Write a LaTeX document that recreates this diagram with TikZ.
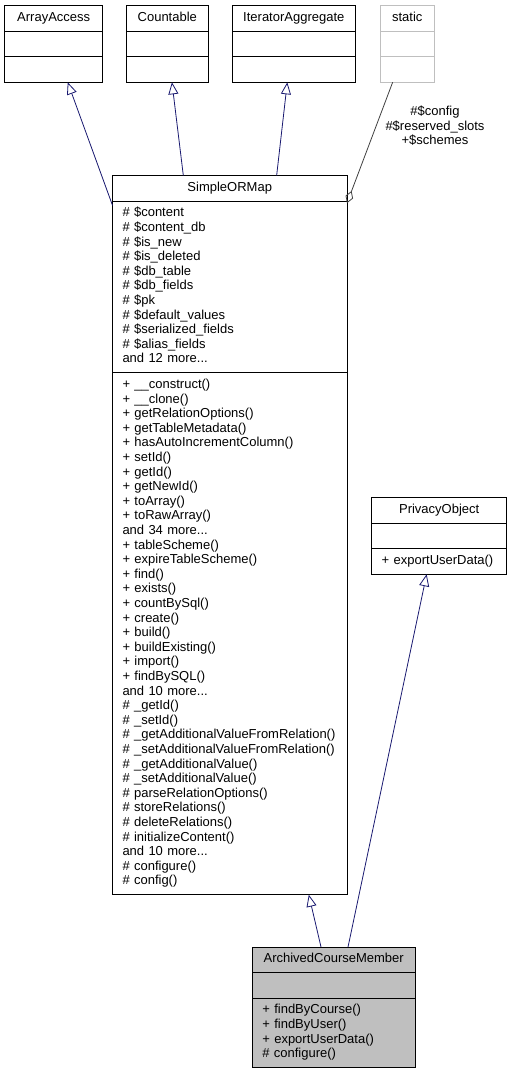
\documentclass[tikz,border=0pt]{standalone}
\usepackage{fontspec}
\setmainfont{Liberation Sans}
\usepackage{xcolor}
\usepackage{tikz}
\usetikzlibrary{positioning,arrows.meta,calc}
\definecolor{inhBlue}{HTML}{191970}
\definecolor{useGray}{HTML}{404040}
\definecolor{extGray}{HTML}{BFBFBF}
\definecolor{focusGray}{HTML}{BFBFBF}

\begin{document}
\begin{tikzpicture}[
    x=1pt, y=-1pt,
    cls/.style={draw, line width=0.9pt, outer sep=0pt, inner xsep=10pt, inner ysep=5.5pt, minimum height=25.6pt,
      font=\fontsize{13}{14.6}\selectfont,
      execute at begin node={\setlength{\parindent}{0pt}\strut}, execute at end node=\strut},
    head/.style={cls, align=center},
    part/.style={cls, align=left},
    lbl/.style={inner sep=0pt, align=center, font=\fontsize{13}{14.6}\selectfont,
      execute at begin node=\strut, execute at end node=\strut},
    inherit/.style={-{Triangle[open, length=12pt, width=10pt]}, draw=inhBlue, line width=0.8pt},
    usage/.style={-{Diamond[open, length=13pt, width=8pt]}, draw=useGray, line width=0.8pt}
  ]
  \useasboundingbox (0,0) rectangle (512,1073);

  % Interfaces
  \node[head, minimum width=98pt] (aa-h) at (53.7,18.3) {ArrayAccess};
  \node[part, minimum width=98pt, below=0pt of aa-h] (aa-a) {};
  \node[part, minimum width=98pt, below=0pt of aa-a] (aa-m) {};

  \node[head, minimum width=81.3pt] (ct-h) at (167.3,18.3) {Countable};
  \node[part, minimum width=81.3pt, below=0pt of ct-h] (ct-a) {};
  \node[part, minimum width=81.3pt, below=0pt of ct-a] (ct-m) {};

  \node[head, minimum width=123pt] (ia-h) at (293.8,18.3) {IteratorAggregate};
  \node[part, minimum width=123pt, below=0pt of ia-h] (ia-a) {};
  \node[part, minimum width=123pt, below=0pt of ia-a] (ia-m) {};

  % External class
  \node[head, draw=extGray, minimum width=54.7pt] (st-h) at (407.3,18.3) {static};
  \node[part, draw=extGray, minimum width=54.7pt, below=0pt of st-h] (st-a) {};
  \node[part, draw=extGray, minimum width=54.7pt, below=0pt of st-a] (st-m) {};

  % Base class
  \node[head, minimum width=234.5pt] (smap-h) at (229.75,188.3) {SimpleORMap};
  \node[part, text width=214.5pt, below=0pt of smap-h] (smap-a)
    {\# \$content\\
     \# \$content\_db\\
     \# \$is\_new\\
     \# \$is\_deleted\\
     \# \$db\_table\\
     \# \$db\_fields\\
     \# \$pk\\
     \# \$default\_values\\
     \# \$serialized\_fields\\
     \# \$alias\_fields\\
     and 12 more...};
  \node[part, text width=214.5pt, below=0pt of smap-a] (smap-m)
    {+ \_\_construct()\\
     + \_\_clone()\\
     + getRelationOptions()\\
     + getTableMetadata()\\
     + hasAutoIncrementColumn()\\
     + setId()\\
     + getId()\\
     + getNewId()\\
     + toArray()\\
     + toRawArray()\\
     and 34 more...\\
     + tableScheme()\\
     + expireTableScheme()\\
     + find()\\
     + exists()\\
     + countBySql()\\
     + create()\\
     + build()\\
     + buildExisting()\\
     + import()\\
     + findBySQL()\\
     and 10 more...\\
     \# \_getId()\\
     \# \_setId()\\
     \# \_getAdditionalValueFromRelation()\\
     \# \_setAdditionalValueFromRelation()\\
     \# \_getAdditionalValue()\\
     \# \_setAdditionalValue()\\
     \# parseRelationOptions()\\
     \# storeRelations()\\
     \# deleteRelations()\\
     \# initializeContent()\\
     and 10 more...\\
     \# configure()\\
     \# config()};

  % Privacy interface
  \node[head, minimum width=135pt] (po-h) at (439.2,510.3) {PrivacyObject};
  \node[part, minimum width=135pt, below=0pt of po-h] (po-a) {};
  \node[part, text width=115pt, below=0pt of po-a] (po-m) {+ exportUserData()};

  % Documented class
  \node[head, fill=focusGray, minimum width=162.7pt] (acm-h) at (333.7,959.8) {ArchivedCourseMember};
  \node[part, fill=focusGray, minimum width=162.7pt, below=0pt of acm-h] (acm-a) {};
  \node[part, fill=focusGray, text width=142.7pt, below=0pt of acm-a] (acm-m)
    {+ findByCourse()\\
     + findByUser()\\
     + exportUserData()\\
     \# configure()};

  % Relations
  \draw[inherit] ($(smap-a.north west)!0.025!(smap-a.south west)$) -- ($(aa-m.south west)!0.643!(aa-m.south east)$);
  \draw[inherit] ($(smap-h.north west)!0.302!(smap-h.north east)$) -- ($(ct-m.south west)!0.557!(ct-m.south east)$);
  \draw[inherit] ($(smap-h.north west)!0.700!(smap-h.north east)$) -- ($(ia-m.south west)!0.447!(ia-m.south east)$);
  \draw[usage] ($(st-m.south west)!0.232!(st-m.south east)$) -- ($(smap-a.north east)!0.012!(smap-a.south east)$);
  \node[lbl] (st-lbl) at (435,127.5) {\#\$config\\\#\$reserved\_slots\\+\$schemes};
  \draw[inherit] ($(acm-h.north west)!0.422!(acm-h.north east)$) -- ($(smap-m.south west)!0.837!(smap-m.south east)$);
  \draw[inherit] ($(acm-h.north west)!0.588!(acm-h.north east)$) -- ($(po-m.south west)!0.407!(po-m.south east)$);
\end{tikzpicture}
\end{document}
